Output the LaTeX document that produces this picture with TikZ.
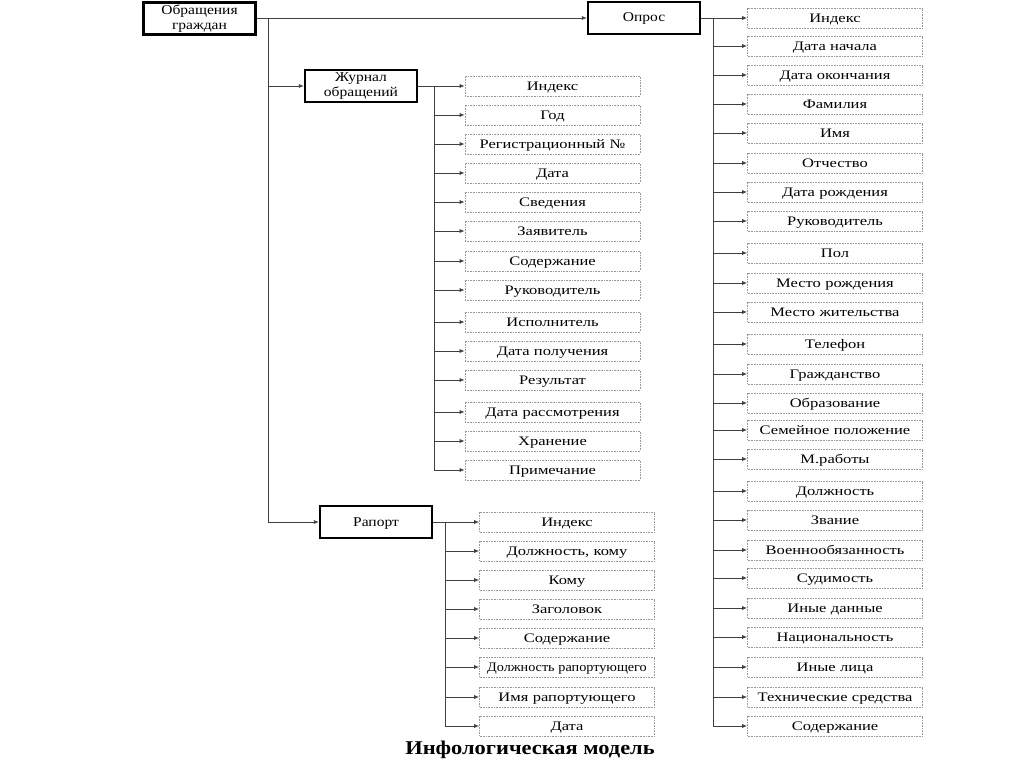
\documentclass[tikz,border=0pt]{standalone}
\usepackage{fontspec}
\setmainfont{Liberation Serif}[FakeStretch=1.15]
\newfontfamily\leaffont{Liberation Serif}[FakeStretch=1.27]
\usetikzlibrary{arrows.meta}
\begin{document}
\begin{tikzpicture}[x=1pt,y=-1pt,
  mainbox/.style={draw=black,line width=2.2pt,minimum width=112pt,minimum height=32pt,align=center,inner sep=0pt,font=\fontsize{13.5}{14.5}\selectfont},
  onebox/.style={mainbox,text height=10pt,text depth=2pt},
  leaf/.style={draw=gray!80,densely dotted,line width=0.6pt,text width=175pt,align=center,minimum height=20pt,inner sep=0pt,text height=10.5pt,text depth=1.5pt,font=\leaffont\fontsize{13}{14}\selectfont},
  conn/.style={draw=black!75,line width=0.8pt},
  arr/.style={conn,-{Latex[length=5pt,width=4pt]}}]
\useasboundingbox (0,0) rectangle (1024,767);
% main boxes
\node[mainbox] (og) at (199.5,18.5) {Обращения\\граждан};
\node[onebox] (opros) at (644,18) {Опрос};
\node[mainbox] (jour) at (361,86) {Журнал\\обращений};
\node[onebox] (rap) at (376,522) {Рапорт};
% trunks
\coordinate (tr) at (268,18);
\coordinate (otr) at (713,18);
\coordinate (jtr) at (434,86);
\coordinate (rtr) at (445,522);
\draw[arr] (og.east |- tr) -- (opros.west);
\draw[arr] (tr) |- (rap.west);
\draw[arr] (tr |- jour.west) -- (jour.west);
% Opros children
\foreach [count=\i] \y/\t in {18/Индекс,46/Дата начала,75/Дата окончания,104/Фамилия,133/Имя,163/Отчество,192/Дата рождения,221/Руководитель,253/Пол,283/Место рождения,312/Место жительства,344/Телефон,374/Гражданство,403/Образование,430/Семейное положение,459/М.работы,491/Должность,520/Звание,550/Военнообязанность,578/Судимость,608/Иные данные,637/Национальность,667/Иные лица,697/Технические средства,726/Содержание}{
  \node[leaf] (o\i) at (835,\y) {\t};
  \draw[arr] (otr |- o\i.west) -- (o\i.west);
}
\draw[conn] (opros.east) -- (otr) -- (otr |- o25.west);
% Journal children
\foreach [count=\i] \y/\t in {86/Индекс,115/Год,144/Регистрационный №,173/Дата,202/Сведения,231/Заявитель,261/Содержание,290/Руководитель,322/Исполнитель,351/Дата получения,380/Результат,412/Дата рассмотрения,441/Хранение,470/Примечание}{
  \node[leaf] (j\i) at (552.5,\y) {\t};
  \draw[arr] (jtr |- j\i.west) -- (j\i.west);
}
\draw[conn] (jour.east) -- (jtr) -- (jtr |- j14.west);
% Rapport children
\foreach [count=\i] \y/\t in {522/Индекс,551/{Должность, кому},580/Кому,609/Заголовок,638/Содержание,667/{\scalebox{0.86}[1]{Должность рапортующего}},697/Имя рапортующего,726/Дата}{
  \node[leaf] (r\i) at (567,\y) {\t};
  \draw[arr] (rtr |- r\i.west) -- (r\i.west);
}
\draw[conn] (rap.east) -- (rtr) -- (rtr |- r8.west);
% title
\node[font=\fontsize{19.5}{20}\selectfont\bfseries] (title) at (530,750) {Инфологическая модель};
\end{tikzpicture}
\end{document}
